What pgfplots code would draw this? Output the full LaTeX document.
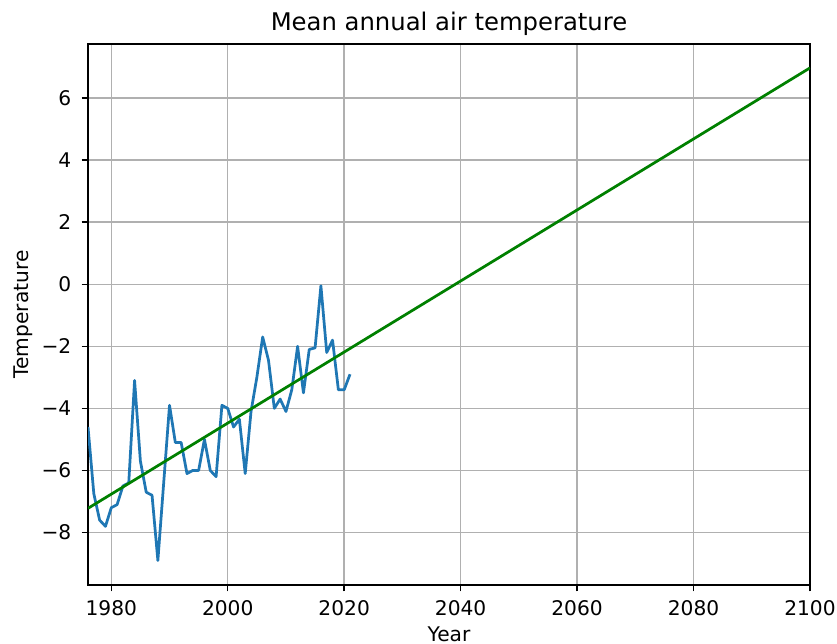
\documentclass[border=0pt]{standalone}
\usepackage{pgfplots}
\pgfplotsset{compat=1.18}
\usepackage{fontspec}
\setmainfont{DejaVu Sans}

\definecolor{mplblue}{HTML}{1F77B4}
\definecolor{mplgreen}{HTML}{008000}
\definecolor{gridgray}{HTML}{B0B0B0}

\newcommand{\tickfont}{\fontsize{10.1bp}{12bp}\selectfont}
\newcommand{\titlefont}{\fontsize{12.15bp}{14bp}\selectfont}

\pgfplotstableread{
year temp
1976 -4.6
1977 -6.75
1978 -7.6
1979 -7.8
1980 -7.2
1981 -7.1
1982 -6.5
1983 -6.4
1984 -3.1
1985 -5.7
1986 -6.7
1987 -6.8
1988 -8.9
1989 -6.4
1990 -3.9
1991 -5.1
1992 -5.1
1993 -6.1
1994 -6.0
1995 -6.0
1996 -5.0
1997 -6.0
1998 -6.2
1999 -3.9
2000 -4.0
2001 -4.6
2002 -4.35
2003 -6.1
2004 -4.1
2005 -3.0
2006 -1.7
2007 -2.45
2008 -4.0
2009 -3.7
2010 -4.1
2011 -3.4
2012 -2.0
2013 -3.5
2014 -2.1
2015 -2.05
2016 -0.05
2017 -2.2
2018 -1.8
2019 -3.4
2020 -3.4
2021 -2.9
}\tempdata

\begin{document}
\begin{tikzpicture}
\begin{axis}[
  scale only axis,
  width=361bp, height=270.5bp,
  xmin=1976, xmax=2100,
  ymin=-9.69, ymax=7.74,
  xtick={1980,2000,2020,2040,2060,2080,2100},
  xticklabels={1980,2000,2020,2040,2060,2080,2100},
  ytick={-8,-6,-4,-2,0,2,4,6},
  yticklabels={−8,−6,−4,−2,0,2,4,6},
  xtick pos=bottom, ytick pos=left,
  tick align=outside,
  major tick length=3.2bp,
  every tick/.style={black, line width=0.73bp},
  axis line style={black, line width=0.73bp},
  grid=major,
  major grid style={gridgray, line width=0.73bp},
  xticklabel style={font=\tickfont, inner sep=0pt, anchor=north, yshift=-4.3bp},
  yticklabel style={font=\tickfont, inner sep=0pt, anchor=east, xshift=-4.95bp},
  title={Mean annual air temperature},
  title style={font=\titlefont, at={(axis description cs:0.5,1.0028)}, anchor=base, inner sep=0pt},
  xlabel={Year},
  xlabel style={font=\tickfont, at={(axis description cs:0.5,-0.1048)}, anchor=base, inner sep=0pt},
  ylabel={Temperature},
  ylabel style={font=\tickfont, at={(axis description cs:-0.0831,0.5)}, anchor=base, inner sep=0pt},
]
\addplot[mplblue, line width=1.37bp, line join=round] table[x=year, y=temp] {\tempdata};
\addplot[mplgreen, line width=1.37bp] coordinates {(1976,-7.22) (2100,6.97)};
\end{axis}
\pgfresetboundingbox
\path ([shift={(-44bp,-29.5bp)}]current axis.south west) rectangle ([shift={(13.5bp,22bp)}]current axis.north east);
\end{tikzpicture}
\end{document}
